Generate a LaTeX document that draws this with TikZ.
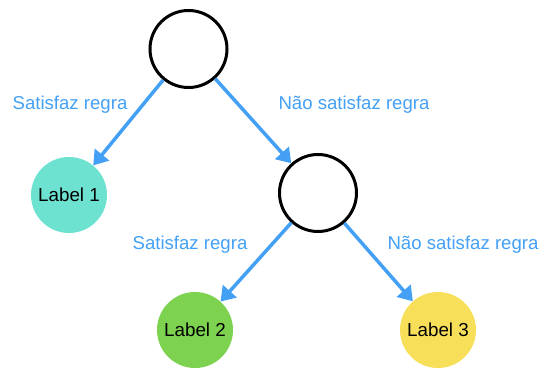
\documentclass[tikz,border=0pt]{standalone}
\usepackage{fontspec}
\setmainfont{Liberation Sans}
\usetikzlibrary{arrows.meta}
\definecolor{arrowblue}{HTML}{43A0F5}
\definecolor{teal1}{HTML}{6EE2D0}
\definecolor{green1}{HTML}{7DD34F}
\definecolor{yellow1}{HTML}{F7DF5A}
\tikzset{
  split/.style={circle, draw=black, line width=3pt, minimum size=77pt, inner sep=0pt},
  leaf/.style={circle, minimum size=76pt, inner sep=0pt, font=\fontsize{18.8}{22}\selectfont},
  conn/.style={draw=arrowblue, line width=3.5pt, -{Triangle[length=14pt,width=18pt]}, shorten >=0pt},
  rule/.style={text=arrowblue, font=\fontsize{18.6}{22}\selectfont}
}
\begin{document}
\begin{tikzpicture}[x=1pt,y=-1pt]
\useasboundingbox (0,0) rectangle (541,369);
\node[split] (root) at (188.5,49) {};
\node[leaf, fill=teal1] (l1) at (69,195) {Label 1};
\node[split] (mid) at (318,193) {};
\node[leaf, fill=green1] (l2) at (195,330) {Label 2};
\node[leaf, fill=yellow1] (l3) at (438,330) {Label 3};
\draw[conn] (root) -- (l1);
\draw[conn] (root) -- (mid);
\draw[conn] (mid) -- (l2);
\draw[conn] (mid) -- (l3);
\node[rule] (t1) at (70,105) {Satisfaz regra};
\node[rule] (t2) at (354,105) {Não satisfaz regra};
\node[rule] (t3) at (190,245) {Satisfaz regra};
\node[rule] (t4) at (463,245) {Não satisfaz regra};
\end{tikzpicture}
\end{document}
